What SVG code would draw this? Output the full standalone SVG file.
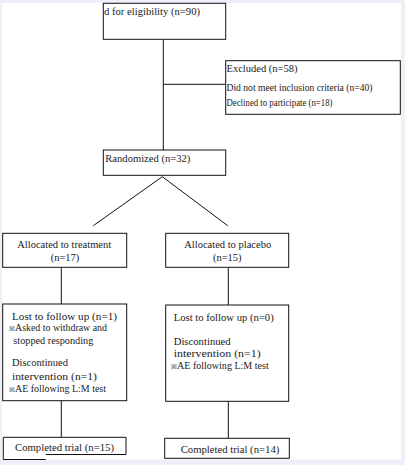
<svg xmlns="http://www.w3.org/2000/svg" width="405" height="465" viewBox="0 0 405 465">
<style>
.box{fill:#fff;stroke:#111;stroke-width:1}
.ln{fill:none;stroke:#111;stroke-width:1}
text{font-family:"Liberation Serif","Times New Roman",serif;fill:#222}
.t{font-size:10.5px}
.m{font-size:11px}
.s{font-size:9.5px}
.g{font-family:"DejaVu Sans",sans-serif;font-size:6.5px}
</style>
<rect x="0" y="0" width="405" height="465" fill="#eff0f7"/>
<rect x="2" y="3" width="399" height="456.5" fill="#fff"/>
<g id="connectors">
<line class="ln" x1="163.3" y1="39.3" x2="163.3" y2="150"/>
<line class="ln" x1="163.3" y1="84.3" x2="225.7" y2="84.3"/>
<line class="ln" x1="162.3" y1="176.7" x2="93.3" y2="225.7"/>
<line class="ln" x1="162.3" y1="176.7" x2="227.7" y2="225.7"/>
<line class="ln" x1="61.3" y1="267.3" x2="61.3" y2="304"/>
<line class="ln" x1="228.3" y1="267.3" x2="228.3" y2="305"/>
<line class="ln" x1="61.3" y1="400.7" x2="61.3" y2="437.3"/>
<line class="ln" x1="228.3" y1="401.3" x2="228.3" y2="438.3"/>
</g>
<g id="assessed">
<rect class="box" x="103.3" y="3.3" width="122.4" height="36"/>
<text class="t" x="104" y="15" textLength="96" lengthAdjust="spacingAndGlyphs">d for eligibility (n=90)</text>
</g>
<g id="excluded">
<rect class="box" x="225.7" y="60.7" width="174.6" height="53.6"/>
<text class="t" x="226.5" y="72" textLength="71" lengthAdjust="spacingAndGlyphs">Excluded (n=58)</text>
<text class="s" x="226.5" y="90.5" textLength="146" lengthAdjust="spacingAndGlyphs">Did not meet inclusion criteria (n=40)</text>
<text class="s" x="226.5" y="106" textLength="106" lengthAdjust="spacingAndGlyphs">Declined to participate (n=18)</text>
</g>
<g id="randomized">
<rect class="box" x="103.3" y="150" width="122.4" height="25.3"/>
<text class="t" x="105.3" y="162" textLength="85" lengthAdjust="spacingAndGlyphs">Randomized (n=32)</text>
</g>
<g id="alloc-treatment">
<rect class="box" x="2.7" y="233.3" width="124" height="34"/>
<text class="t" x="64.2" y="248" text-anchor="middle">Allocated to treatment</text>
<text class="t" x="65" y="261" text-anchor="middle">(n=17)</text>
</g>
<g id="alloc-placebo">
<rect class="box" x="165.7" y="233.3" width="123" height="34"/>
<text class="t" x="227.7" y="248" text-anchor="middle">Allocated to placebo</text>
<text class="t" x="227.3" y="261" text-anchor="middle">(n=15)</text>
</g>
<g id="lost-treatment">
<rect class="box" x="2.7" y="304" width="124" height="96.7"/>
<text class="m" x="12" y="319.5" textLength="105" lengthAdjust="spacingAndGlyphs">Lost to follow up (n=1)</text>
<text class="g" x="9" y="330.5">☒</text>
<text class="s" x="15" y="331" textLength="92" lengthAdjust="spacingAndGlyphs">Asked to withdraw and</text>
<text class="s" x="13.3" y="344" textLength="80" lengthAdjust="spacingAndGlyphs">stopped responding</text>
<text class="m" x="12" y="366" textLength="56" lengthAdjust="spacingAndGlyphs">Discontinued</text>
<text class="m" x="12" y="379.5" textLength="85" lengthAdjust="spacingAndGlyphs">intervention (n=1)</text>
<text class="g" x="9" y="391.5">☒</text>
<text class="s" x="15" y="392" textLength="91" lengthAdjust="spacingAndGlyphs">AE following L:M test</text>
</g>
<g id="lost-placebo">
<rect class="box" x="165.7" y="305" width="123" height="96.3"/>
<text class="m" x="173.7" y="320.5" textLength="100" lengthAdjust="spacingAndGlyphs">Lost to follow up (n=0)</text>
<text class="m" x="173.7" y="344.5" textLength="57" lengthAdjust="spacingAndGlyphs">Discontinued</text>
<text class="m" x="173.7" y="356.5" textLength="87" lengthAdjust="spacingAndGlyphs">intervention (n=1)</text>
<text class="g" x="171" y="368.5">☒</text>
<text class="s" x="177" y="369" textLength="91.7" lengthAdjust="spacingAndGlyphs">AE following L:M test</text>
</g>
<g id="completed-treatment">
<rect x="3.3" y="437.3" width="122.7" height="17.2" fill="#fff"/>
<path class="ln" d="M45.7,454.5 H126 V437.3 H3.3 V459.5 H45.7"/>
<text class="t" x="15" y="450.5" textLength="99" lengthAdjust="spacingAndGlyphs">Completed trial (n=15)</text>
</g>
<g id="completed-placebo">
<rect class="box" x="164.7" y="438.3" width="124.6" height="20"/>
<text class="t" x="180.7" y="452.5" textLength="98.6" lengthAdjust="spacingAndGlyphs">Completed trial (n=14)</text>
</g>
</svg>
